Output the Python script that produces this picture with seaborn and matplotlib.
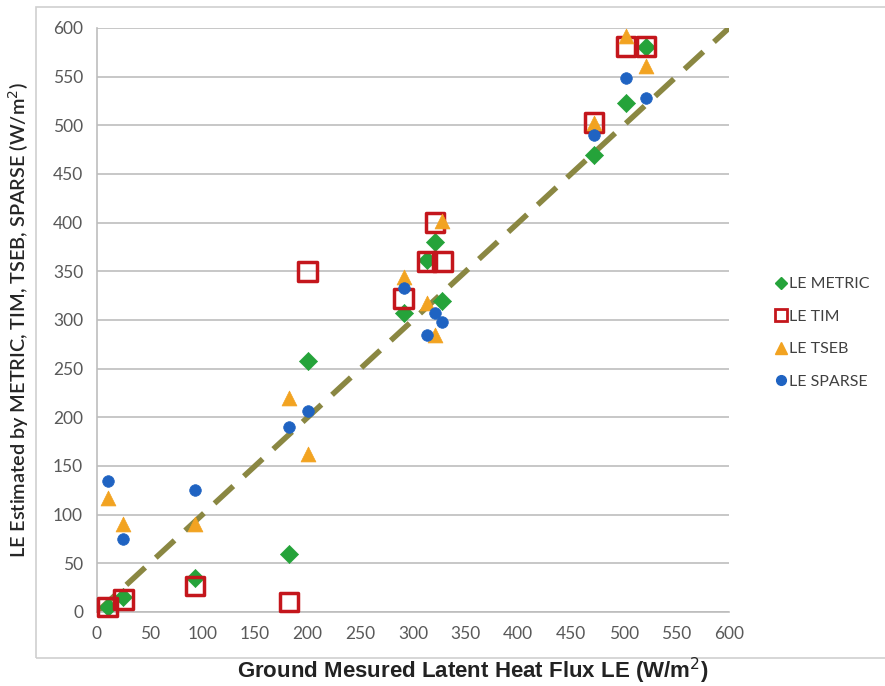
import matplotlib
matplotlib.use("Agg")
import matplotlib.pyplot as plt
import seaborn as sns
import pandas as pd
from matplotlib.lines import Line2D
from matplotlib.patches import Rectangle

# Ground-measured latent heat flux (W/m2), shared by all models
measured = [10, 25, 93, 182, 200, 291, 313, 321, 328, 472, 502, 521]

# Model estimates (W/m2)
le_metric = [5, 15, 35, 60, 258, 307, 362, 380, 320, 470, 523, 580]
le_tim = [5, 13, 27, 10, 350, 322, 360, 400, 360, 503, 581, 581]
le_tseb = [117, 90, 90, 220, 162, 344, 317, 285, 402, 502, 592, 561]
le_sparse = [135, 75, 125, 190, 207, 333, 285, 307, 298, 490, 549, 528]

one_to_one = [0, 600]
x_ticks = list(range(0, 601, 50))
y_ticks = list(range(0, 601, 50))

series_names = ["LE METRIC", "LE TIM", "LE TSEB", "LE SPARSE"]

sns.set_style("white")
plt.rcParams["font.family"] = ["Lato", "DejaVu Sans"]

fig = plt.figure(figsize=(8.85, 6.86), dpi=100)
ax = fig.add_axes([97 / 885, 1 - 612 / 686, (729 - 97) / 885, (612 - 28) / 686])

# light frame around the chart area
fig.patches.append(Rectangle((36 / 885, 1 - 658 / 686), 1.2, (658 - 7) / 686,
                             transform=fig.transFigure, fill=False,
                             edgecolor="#cfcfcf", linewidth=1.2, zorder=0))

# 1:1 reference line
sns.lineplot(x=one_to_one, y=one_to_one, ax=ax, color="#8a8742",
             linewidth=4, linestyle=(0, (4.6, 2.6)), zorder=2)

green = "#25a33a"
red = "#c4161c"
orange = "#f2a321"
blue = "#1f63c2"

df = pd.DataFrame({"measured": measured, "metric": le_metric, "tim": le_tim,
                   "tseb": le_tseb, "sparse": le_sparse})

sns.scatterplot(data=df, x="measured", y="metric", ax=ax, marker="D", s=85,
                color=green, edgecolor=green, linewidth=0.5, zorder=3, clip_on=False)
sns.scatterplot(data=df, x="measured", y="tim", ax=ax, marker="s", s=175,
                facecolor="none", edgecolor=red, linewidth=2.5, zorder=4, clip_on=False)
sns.scatterplot(data=df, x="measured", y="tseb", ax=ax, marker="^", s=115,
                color=orange, edgecolor=orange, linewidth=0.5, zorder=5, clip_on=False)
sns.scatterplot(data=df, x="measured", y="sparse", ax=ax, marker="o", s=70,
                color=blue, edgecolor=blue, linewidth=0.5, zorder=6, clip_on=False)

ax.set_xlim(0, 600)
ax.set_ylim(0, 600)
ax.set_xticks(x_ticks)
ax.set_yticks(y_ticks)
ax.yaxis.grid(True, color="#bdbdbd", linewidth=1.2)
ax.xaxis.grid(False)
ax.set_axisbelow(True)
for side in ["top", "right"]:
    ax.spines[side].set_visible(False)
for side in ["left", "bottom"]:
    ax.spines[side].set_color("#bdbdbd")
    ax.spines[side].set_linewidth(1.2)
ax.tick_params(axis="both", which="major", length=5, width=1.2, color="#bdbdbd",
               labelsize=12.5, labelcolor="#595959", direction="out")
ax.tick_params(axis="x", pad=5)
ax.tick_params(axis="y", pad=5)

ax.set_xlabel("")
ax.set_ylabel("LE Estimated by METRIC, TIM, TSEB, SPARSE (W/m$^2$)",
              fontsize=14.3, color="#262626", fontweight="semibold")
ax.yaxis.set_label_coords(-0.104, 0.5)
fig.text(473 / 885, 1 - 671 / 686, "Ground Mesured Latent Heat Flux LE (W/m$^2$)",
         ha="center", va="center", fontsize=16, color="#222222", fontweight="bold",
         family=["Liberation Sans", "DejaVu Sans"])

handles = [
    Line2D([], [], linestyle="none", marker="D", markersize=6, color=green),
    Line2D([], [], linestyle="none", marker="s", markersize=9, markerfacecolor="none",
           markeredgecolor=red, markeredgewidth=2),
    Line2D([], [], linestyle="none", marker="^", markersize=9, color=orange),
    Line2D([], [], linestyle="none", marker="o", markersize=7, color=blue),
]
fig.legend(handles, series_names, loc="center left",
           bbox_to_anchor=(765 / 885, 1 - 333 / 686), frameon=False,
           fontsize=11.5, labelcolor="#404040", handletextpad=0.0,
           handlelength=1.0, labelspacing=1.15, borderpad=0)

fig.savefig("out.png", dpi=100)
